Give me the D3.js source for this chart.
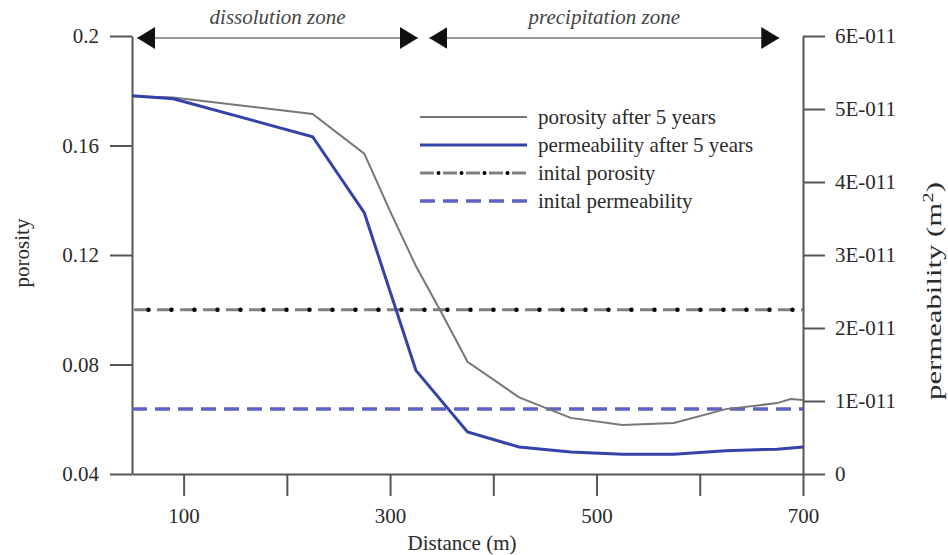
<!DOCTYPE html>
<html>
<head>
<meta charset="utf-8">
<script src="https://cdn.jsdelivr.net/npm/d3@7"></script>
<style>
  body { margin: 0; background: #fff; }
  svg text { font-family: "Liberation Serif", serif; fill: #2a2a2a; }
  .axis path, .axis line { stroke: #555; stroke-width: 2; }
  .axis text { font-family: "Liberation Serif", serif; font-size: 21px; fill: #2a2a2a; }
</style>
</head>
<body>
<svg id="chart" width="948" height="555"></svg>
<script>
// Data
var distance = [50, 90, 225, 275, 300, 325, 350, 375, 425, 475, 525, 575, 625, 675, 688, 700];
var porosity5 = [0.178, 0.1775, 0.1715, 0.157, 0.136, 0.116, 0.0988, 0.081, 0.068, 0.0605, 0.0579, 0.0586, 0.0637, 0.0659, 0.0674, 0.067];

var permDistance = [50, 90, 225, 275, 325, 375, 425, 475, 525, 575, 625, 675, 700];
var permeability5 = [5.18e-11, 5.14e-11, 4.62e-11, 3.58e-11, 1.42e-11, 0.575e-11, 0.37e-11, 0.3e-11, 0.27e-11, 0.27e-11, 0.32e-11, 0.34e-11, 0.37e-11];

var initPorosity = 0.1;
var initPermeability = 8.9e-12;

var zones = ["dissolution zone", "precipitation zone"];
var zoneStart = [55, 338];
var zoneEnd = [327, 677];

var xTicks = [100, 200, 300, 400, 500, 600, 700];
var xLabels = ["100", "", "300", "", "500", "", "700"];
var pTicks = [0.04, 0.08, 0.12, 0.16, 0.2];
var pLabels = ["0.04", "0.08", "0.12", "0.16", "0.2"];
var kTicks = [0, 1e-11, 2e-11, 3e-11, 4e-11, 5e-11, 6e-11];
var kLabels = ["0", "1E-011", "2E-011", "3E-011", "4E-011", "5E-011", "6E-011"];

var legendNames = ["porosity after 5 years", "permeability after 5 years", "inital porosity", "inital permeability"];

var svg = d3.select("#chart");

// Scales
var xScale = d3.scaleLinear().domain([50, 700]).range([132, 803]);
var pScale = d3.scaleLinear().domain([0.04, 0.2]).range([474, 36]);
var kScale = d3.scaleLinear().domain([0, 6e-11]).range([474, 36]);

// Axes
var xAxis = d3.axisBottom(xScale).tickValues(xTicks).tickSize(22).tickSizeOuter(0).tickPadding(12)
    .tickFormat((d, i) => xLabels[i]);
var pAxis = d3.axisLeft(pScale).tickValues(pTicks).tickSize(22).tickSizeOuter(0).tickPadding(11)
    .tickFormat((d, i) => pLabels[i]);
var kAxis = d3.axisRight(kScale).tickValues(kTicks).tickSize(22).tickSizeOuter(0).tickPadding(10)
    .tickFormat((d, i) => kLabels[i]);

svg.append("g").attr("class", "axis")
    .attr("transform", "translate(0,474)")
    .call(xAxis);
svg.append("g").attr("class", "axis")
    .attr("transform", "translate(132,0)")
    .call(pAxis);
svg.append("g").attr("class", "axis")
    .attr("transform", "translate(803,0)")
    .call(kAxis);

// Axis labels
svg.append("text")
    .attr("x", 462)
    .attr("y", 550)
    .attr("text-anchor", "middle")
    .style("font-size", "21px")
    .text("Distance (m)");
svg.append("text")
    .attr("transform", "translate(29,253)rotate(-90)")
    .attr("text-anchor", "middle")
    .style("font-size", "21px")
    .text("porosity");
var kLabel = svg.append("text")
    .attr("transform", "translate(941,400)rotate(-90)")
    .attr("textLength", 218)
    .attr("lengthAdjust", "spacingAndGlyphs")
    .style("font-size", "22px");
kLabel.append("tspan").text("permeability (m");
kLabel.append("tspan").attr("dy", -8).style("font-size", "15px").text("2");
kLabel.append("tspan").attr("dy", 8).text(")");

// Initial lines
var pInit = d3.line()
    .x(d => xScale(d))
    .y(() => pScale(initPorosity));
var kInit = d3.line()
    .x(d => xScale(d))
    .y(() => kScale(initPermeability));

svg.append("path")
    .attr("d", pInit([50, 700]))
    .attr("fill", "none")
    .attr("stroke", "#808080")
    .attr("stroke-width", 3)
    .attr("stroke-dasharray", "14 9")
    .attr("stroke-dashoffset", -2);
svg.append("path")
    .attr("d", pInit([50, 700]))
    .attr("fill", "none")
    .attr("stroke", "#000")
    .attr("stroke-width", 4.5)
    .attr("stroke-linecap", "round")
    .attr("stroke-dasharray", "0 23")
    .attr("stroke-dashoffset", -16.5);

svg.append("path")
    .attr("d", kInit([50, 700]))
    .attr("fill", "none")
    .attr("stroke", "#5c63c2")
    .attr("stroke-width", 3.5)
    .attr("stroke-dasharray", "15 8");

// Curves after 5 years
var pLine = d3.line()
    .x((d, i) => xScale(distance[i]))
    .y(d => pScale(d));
var kLine = d3.line()
    .x((d, i) => xScale(permDistance[i]))
    .y(d => kScale(d));

svg.append("path")
    .attr("d", pLine(porosity5))
    .attr("fill", "none")
    .attr("stroke", "#777")
    .attr("stroke-width", 2);
svg.append("path")
    .attr("d", kLine(permeability5))
    .attr("fill", "none")
    .attr("stroke", "#3443a8")
    .attr("stroke-width", 3);

// Zone arrows
var defs = svg.append("defs");
defs.append("marker")
    .attr("id", "head")
    .attr("markerUnits", "userSpaceOnUse")
    .attr("viewBox", "0 0 18 22")
    .attr("refX", 18).attr("refY", 11)
    .attr("markerWidth", 18).attr("markerHeight", 22)
    .attr("orient", "auto-start-reverse")
    .append("path")
    .attr("d", "M0,0L18,11L0,22Z")
    .attr("fill", "#111");

var zoneG = svg.selectAll(".zone")
    .data(zones)
    .enter()
    .append("g")
    .attr("class", "zone");

zoneG.append("line")
    .attr("x1", (d, i) => xScale(zoneStart[i]))
    .attr("x2", (d, i) => xScale(zoneEnd[i]))
    .attr("y1", 38).attr("y2", 38)
    .attr("stroke", "#999")
    .attr("stroke-width", 2)
    .attr("marker-start", "url(#head)")
    .attr("marker-end", "url(#head)");

zoneG.append("text")
    .attr("x", (d, i) => (xScale(zoneStart[i]) + xScale(zoneEnd[i])) / 2)
    .attr("y", 24)
    .attr("text-anchor", "middle")
    .style("font-size", "21px")
    .style("font-style", "italic")
    .style("fill", "#444")
    .text(d => d);

// Legend
var legend = svg.append("g").attr("transform", "translate(420,117)");
var legendRows = legend.selectAll(".row")
    .data(legendNames)
    .enter()
    .append("g")
    .attr("transform", (d, i) => "translate(0," + (i * 28) + ")");

legendRows.append("text")
    .attr("x", 118)
    .attr("y", 7)
    .style("font-size", "21px")
    .text(d => d);

legendRows.filter((d, i) => i == 0).append("line")
    .attr("x1", 0).attr("x2", 107)
    .attr("stroke", "#777").attr("stroke-width", 2);
legendRows.filter((d, i) => i == 1).append("line")
    .attr("x1", 0).attr("x2", 107)
    .attr("stroke", "#3443a8").attr("stroke-width", 3);
legendRows.filter((d, i) => i == 2).append("line")
    .attr("x1", 0).attr("x2", 107)
    .attr("stroke", "#808080").attr("stroke-width", 3)
    .attr("stroke-dasharray", "14 9");
legendRows.filter((d, i) => i == 2).append("line")
    .attr("x1", 0).attr("x2", 107)
    .attr("stroke", "#000").attr("stroke-width", 4)
    .attr("stroke-linecap", "round")
    .attr("stroke-dasharray", "0 23")
    .attr("stroke-dashoffset", -18.5);
legendRows.filter((d, i) => i == 3).append("line")
    .attr("x1", 0).attr("x2", 107)
    .attr("stroke", "#5c63c2").attr("stroke-width", 3.5)
    .attr("stroke-dasharray", "15 8");
</script>
</body>
</html>
